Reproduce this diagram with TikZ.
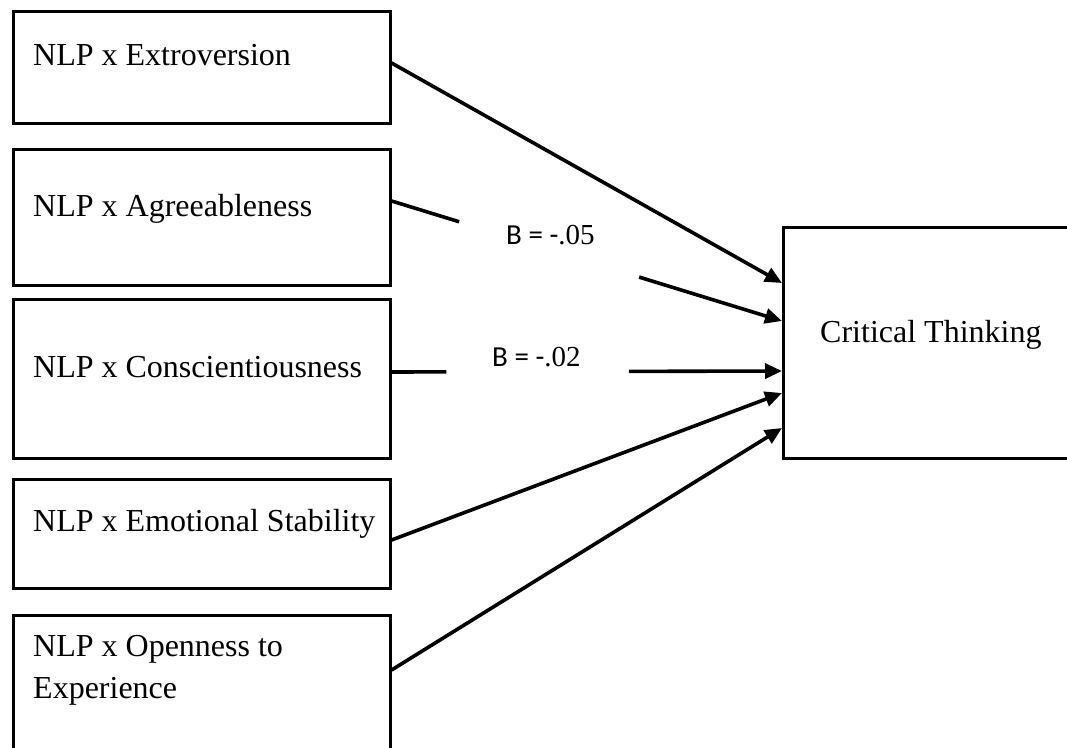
\documentclass[tikz,border=0pt]{standalone}
\usepackage{fontspec}
\setmainfont{Liberation Serif}
\newfontfamily\calib{Carlito}
\usetikzlibrary{arrows.meta,calc}
\tikzset{
  boxnode/.style={draw=black, line width=2.6pt, fill=none, inner sep=0pt, anchor=north west},
  lbl/.style={anchor=base west, inner sep=0pt, font=\fontsize{32}{42}\selectfont},
  coef/.style={anchor=base west, inner sep=0pt, font=\fontsize{29}{34}\selectfont},
  conn/.style={line width=3.6pt, -{Triangle[length=17pt,width=15pt]}},
  seg/.style={line width=3.6pt}
}
\begin{document}
\begin{tikzpicture}[x=1pt,y=-1pt]
\useasboundingbox (0,0) rectangle (1067,747);
\clip (0,0) rectangle (1067,747);
% boxes
\node[boxnode, minimum width=377pt, minimum height=112pt] (e1) at (12,10) {};
\node[boxnode, minimum width=377pt, minimum height=136pt] (e2) at (12,148) {};
\node[boxnode, minimum width=377pt, minimum height=159pt] (e3) at (12,298) {};
\node[boxnode, minimum width=377pt, minimum height=109pt] (e4) at (12,478) {};
\node[boxnode, minimum width=377pt, minimum height=150pt] (e5) at (12,614) {};
\node[boxnode, minimum width=300pt, minimum height=231pt] (ct) at (782,226) {};
% labels
\node[lbl] (t1) at (33,65) {NLP x Extroversion};
\node[lbl] (t2) at (33,216) {NLP x Agreeableness};
\node[lbl] (t3) at (33,377) {NLP x Conscientiousness};
\node[lbl] (t4) at (33,531) {NLP x Emotional Stability};
\node[lbl, align=left, anchor=north west] (t5) at (33,635) {NLP x Openness to\\Experience};
\node[lbl] (tc) at (820,342) {Critical Thinking};
\node[coef] (b1) at (506,244) {{\calib B = -}.05};
\node[coef] (b2) at (492,366) {{\calib B = -}.02};
% connector end points
\coordinate (s1) at ($(e1.north east)+(0,53)$);
\coordinate (s2) at ($(e2.north east)+(0,53)$);
\coordinate (s3) at ($(e3.north east)+(0,74)$);
\coordinate (s4) at ($(e4.north east)+(0,62)$);
\coordinate (s5) at ($(e5.north east)+(0,56)$);
\coordinate (d1) at ($(ct.north west)+(0,57)$);
\coordinate (d2) at ($(ct.north west)+(0,95)$);
\coordinate (d3) at ($(ct.north west)+(0,145)$);
\coordinate (d4) at ($(ct.north west)+(0,167)$);
\coordinate (d5) at ($(ct.north west)+(0,202)$);
% connectors
\draw[conn] (s1) -- (d1);
\draw[seg] (s2) -- ($(s2)!0.173!(d2)$);
\draw[conn] ($(s2)!0.634!(d2)$) -- (d2);
\draw[seg] (s3) -- ($(s3)!0.14!(d3)$);
\draw[conn] ($(s3)!0.608!(d3)$) -- (d3);
\draw[conn] (s4) -- (d4);
\draw[conn] (s5) -- (d5);
\end{tikzpicture}
\end{document}
